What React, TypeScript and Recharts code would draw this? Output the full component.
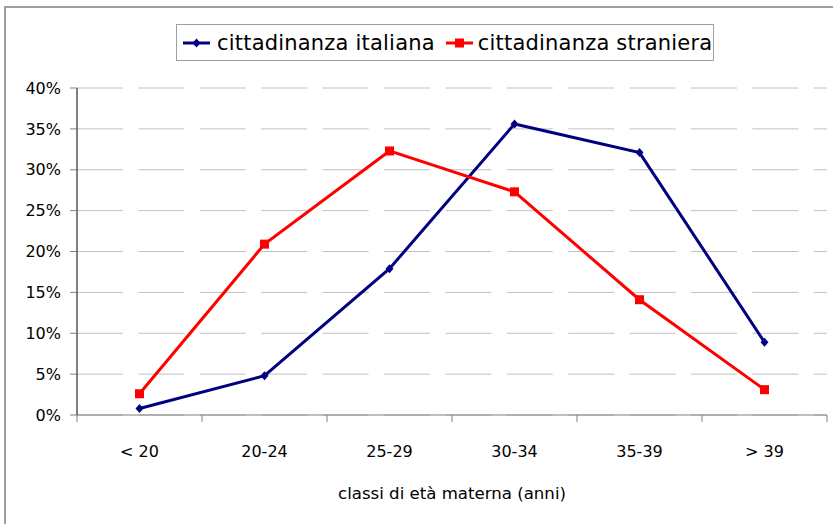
import { LineChart, Line, XAxis, YAxis, CartesianGrid, Legend } from 'recharts';

const categories = ['< 20', '20-24', '25-29', '30-34', '35-39', '> 39'];
const italiana = [0.8, 4.8, 17.9, 35.6, 32.1, 8.9];
const straniera = [2.6, 20.9, 32.3, 27.3, 14.1, 3.1];
const yTicks = [0, 5, 10, 15, 20, 25, 30, 35, 40];
const seriesNames = { italiana: 'cittadinanza italiana', straniera: 'cittadinanza straniera' };
const xTitle = 'classi di età materna (anni)';

const data = categories.map((c, i) => ({ classe: c, italiana: italiana[i], straniera: straniera[i] }));

const FONT = '"DejaVu Sans", Verdana, sans-serif';
const TICK = 7;

function XTick(props: any) {
  const { x, y, payload, index, visibleTicksCount } = props;
  const half = payload.offset ?? 62.5;
  const top = y - TICK;
  return (
    <g>
      <line x1={x - half} y1={top} x2={x - half} y2={y} stroke="#808080" />
      {index === visibleTicksCount - 1 && (
        <line x1={x + half} y1={top} x2={x + half} y2={y} stroke="#808080" />
      )}
      <text x={x} y={y + 35} textAnchor="middle" fontSize={16} fontFamily={FONT} fill="#000">
        {payload.value}
      </text>
    </g>
  );
}

function Diamond(props: any) {
  const { cx, cy } = props;
  if (cx == null || cy == null) return null;
  return <path d={`M${cx},${cy - 4.5}L${cx + 4},${cy}L${cx},${cy + 4.5}L${cx - 4},${cy}Z`} fill="#000080" />;
}

function Square(props: any) {
  const { cx, cy } = props;
  if (cx == null || cy == null) return null;
  return <rect x={cx - 4.5} y={cy - 4.5} width={9} height={9} fill="#FF0000" />;
}

function LegendBox() {
  const item = (color: string, marker: 'd' | 's', label: string, gap: number, after: number) => (
    <span style={{ display: 'inline-flex', alignItems: 'center', marginRight: after, whiteSpace: 'nowrap' }}>
      <svg width={27} height={12} style={{ marginRight: gap }}>
        <line x1={0} y1={6} x2={27} y2={6} stroke={color} strokeWidth={3} />
        {marker === 'd'
          ? <path d="M13.5,1.5L17.5,6L13.5,10.5L9.5,6Z" fill={color} />
          : <rect x={9} y={1.5} width={9} height={9} fill={color} />}
      </svg>
      {label}
    </span>
  );
  return (
    <div style={{
      border: '1px solid #a0a0a0', width: 538, height: 37, display: 'flex',
      alignItems: 'center', paddingLeft: 6, boxSizing: 'border-box' as const, fontFamily: FONT,
      fontSize: 21, letterSpacing: 0.2, color: '#000', background: '#fff',
    }}>
      {item('#000080', 'd', seriesNames.italiana, 7, 11)}
      {item('#FF0000', 's', seriesNames.straniera, 5, 0)}
    </div>
  );
}

export default function App() {
  return (
    <div style={{ position: 'absolute', left: 0, top: 0, width: 833, height: 524, overflow: 'hidden', background: '#fff' }}>
      <div style={{ position: 'absolute', left: 4, top: 6, width: 860, height: 560, border: '2px solid #a0a0a0' }} />
      <div style={{ position: 'absolute', left: 0, top: 0 }}>
        <LineChart width={833} height={524} data={data} margin={{ top: 88, right: 6, bottom: 19, left: 17 }}>
          <CartesianGrid vertical={false} stroke="#c0c0c0" strokeDasharray="46 15.4" />
          <XAxis
            dataKey="classe"
            scale="band"
            height={90}
            axisLine={{ stroke: '#808080' }}
            tickLine={false}
            tickSize={TICK}
            tickMargin={0}
            tick={<XTick />}
            interval={0}
            label={{ value: xTitle, position: 'insideBottom', offset: 6, fontSize: 16.6, fontFamily: FONT, fill: '#000' }}
          />
          <YAxis
            width={60}
            domain={[0, 40]}
            ticks={yTicks}
            interval={0}
            tickFormatter={(v: number) => `${v}%`}
            axisLine={{ stroke: '#000' }}
            tickLine={{ stroke: '#808080' }}
            tickSize={TICK}
            tickMargin={9}
            tick={{ fontSize: 16, fontFamily: FONT, fill: '#000' }}
          />
          <Legend
            layout="horizontal"
            verticalAlign="middle"
            align="center"
            wrapperStyle={{ position: 'absolute', left: 176, top: 24, width: 540 }}
            content={<LegendBox />}
          />
          <Line
            dataKey="italiana"
            name={seriesNames.italiana}
            stroke="#000080"
            strokeWidth={3}
            dot={<Diamond />}
            activeDot={false}
            isAnimationActive={false}
          />
          <Line
            dataKey="straniera"
            name={seriesNames.straniera}
            stroke="#FF0000"
            strokeWidth={3}
            dot={<Square />}
            activeDot={false}
            isAnimationActive={false}
          />
        </LineChart>
      </div>
    </div>
  );
}
